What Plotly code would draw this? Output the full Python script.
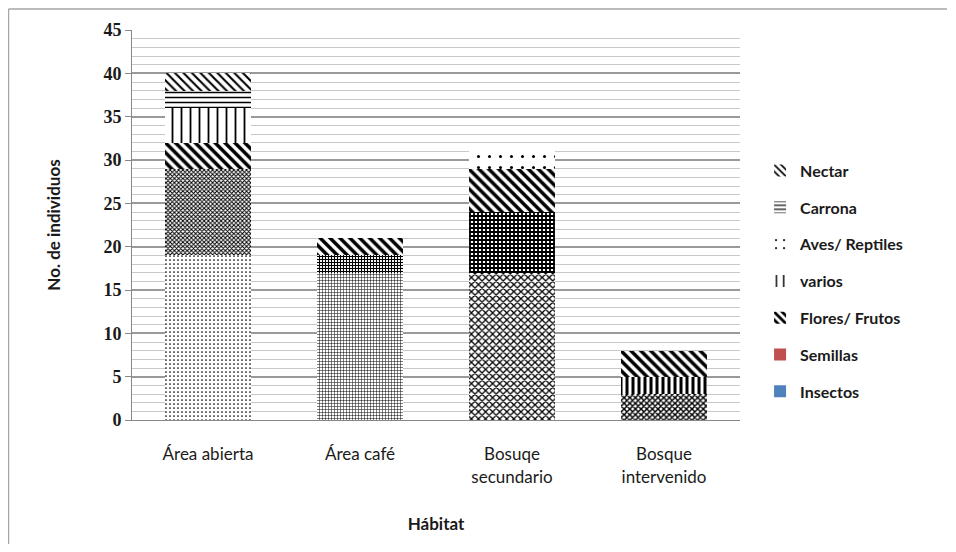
import plotly.graph_objects as go

# habitat categories and diet counts
habitats = ["Área abierta", "Área café", "Bosuqe<br>secundario", "Bosque<br>intervenido"]

insectos = [19, 17, 17, 3]
semillas = [10, 2, 7, 2]
flores_frutos = [3, 2, 5, 3]
varios = [4, 0, 0, 0]
aves_reptiles = [0, 0, 2, 0]
carrona = [2, 0, 0, 0]
nectar = [2, 0, 0, 0]

y_ticks = [0, 5, 10, 15, 20, 25, 30, 35, 40, 45]

# per-segment fill patterns (the original uses different fills per bar)
series = [
    ("Insectos", insectos, dict(shape=[".", "+", "x", "x"], size=[4, 3, 5, 4],
                                solidity=[0.15, 0.3, 0.45, 0.6])),
    ("Semillas", semillas, dict(shape=["x", "+", "+", "|"], size=[3, 3, 4, 6],
                                solidity=[0.55, 0.6, 0.7, 0.5])),
    ("Flores/ Frutos", flores_frutos, dict(shape="\\", size=7, solidity=0.5)),
    ("varios", varios, dict(shape="|", size=9, solidity=0.2)),
    ("Aves/ Reptiles", aves_reptiles, dict(shape=".", size=11, solidity=0.06)),
    ("Carrona", carrona, dict(shape="-", size=5, solidity=0.3)),
    ("Nectar", nectar, dict(shape="\\", size=6, solidity=0.35)),
]

legend_colors = {"Insectos": "#4F81BD", "Semillas": "#C0504D"}

fig = go.Figure()

for name, vals, pat in series:
    fig.add_trace(go.Bar(
        x=habitats, y=vals, name=name,
        marker=dict(color="white", line=dict(width=0),
                    pattern=dict(fgcolor="black", bgcolor="white", fillmode="replace", **pat)),
        width=0.57, showlegend=False,
    ))

# legend-only entries, so the symbols look like the original legend (Nectar on top)
for rank, (name, vals, pat) in enumerate(reversed(series), start=1):
    if name in legend_colors:
        marker = dict(color=legend_colors[name], line=dict(width=0))
    else:
        p = {k: (v[0] if isinstance(v, list) else v) for k, v in pat.items()}
        marker = dict(color="white", line=dict(width=0),
                      pattern=dict(fgcolor="black", bgcolor="white", fillmode="replace", **p))
    fig.add_trace(go.Bar(x=[habitats[0]], y=[None], name=name, marker=marker,
                         legendgroup=name, legendrank=rank, showlegend=True))

# outer chart frame: only the left and top edges show in the original
fig.add_shape(type="line", xref="paper", yref="paper",
              x0=-123.5 / 608, x1=-123.5 / 608, y0=-124 / 390, y1=1 + 21 / 390,
              line=dict(color="#a6a6a6", width=1.5), layer="below")
fig.add_shape(type="line", xref="paper", yref="paper",
              x0=-123.5 / 608, x1=815 / 608, y0=1 + 21 / 390, y1=1 + 21 / 390,
              line=dict(color="#a6a6a6", width=1.5), layer="below")

fig.update_layout(
    barmode="stack",
    width=940, height=536,
    margin=dict(l=124, r=208, t=22, b=124),
    paper_bgcolor="white", plot_bgcolor="white",
    font=dict(family="Lato, Open Sans, sans-serif", size=16, color="#1a1a1a"),
    legend=dict(x=1.033, y=0.683, xanchor="left", yanchor="top",
                traceorder="grouped", tracegroupgap=13,
                font=dict(size=16, color="#1a1a1a", weight="bold"), itemwidth=30),
    xaxis=dict(
        showline=True, linecolor="#888", linewidth=1,
        ticks="", tickfont=dict(size=17), ticklabelstandoff=19,
        title=dict(text="<b>Hábitat</b>", font=dict(size=17), standoff=32),
    ),
    yaxis=dict(
        range=[0, 45], tickvals=y_ticks,
        showline=True, linecolor="#888", linewidth=1,
        ticks="outside", ticklen=6, tickcolor="#888",
        tickfont=dict(family="Liberation Serif, serif", size=18, weight="bold"),
        showgrid=True, gridcolor="#9a9a9a", gridwidth=1.5,
        minor=dict(dtick=1, showgrid=True, gridcolor="#c8c8c8", gridwidth=1.2),
        zeroline=False,
        title=dict(text="<b>No. de individuos</b>", font=dict(size=17), standoff=38),
    ),
)

fig.write_html("out.html")
